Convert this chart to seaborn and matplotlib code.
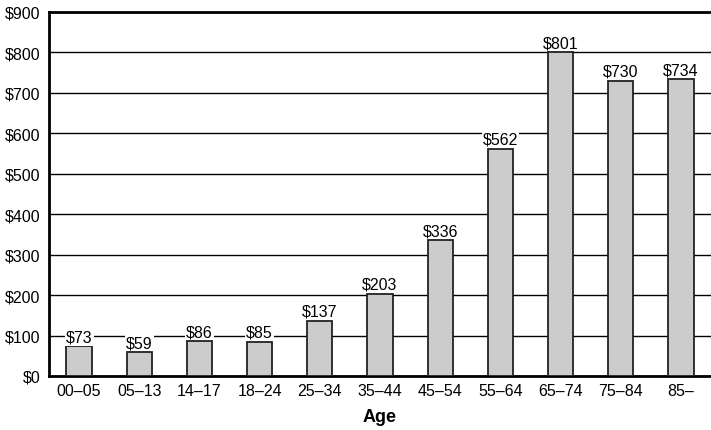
import matplotlib
matplotlib.use("Agg")
import matplotlib.pyplot as plt
import seaborn as sns
import pandas as pd

age_groups = ["00–05", "05–13", "14–17", "18–24", "25–34", "35–44",
              "45–54", "55–64", "65–74", "75–84", "85–"]
spending = [73, 59, 86, 85, 137, 203, 336, 562, 801, 730, 734]
y_ticks = [0, 100, 200, 300, 400, 500, 600, 700, 800, 900]

sns.set_style("white", {"text.color": "black", "axes.labelcolor": "black",
                        "xtick.color": "black", "ytick.color": "black"})
plt.rcParams["font.family"] = ["Liberation Sans", "DejaVu Sans"]

df = pd.DataFrame({"Age": age_groups, "Spending": spending})

fig = plt.figure(figsize=(7.11, 4.31), dpi=100)
ax = fig.add_axes([49 / 711, 1 - 377 / 431, 1 - 49 / 711, (377 - 13) / 431])

sns.barplot(data=df, x="Age", y="Spending", color="#cccccc", width=0.42,
            edgecolor="#222222", linewidth=1.3, saturation=1, ax=ax, zorder=3)

ax.set_ylim(0, 900)
ax.set_xlim(-0.5, len(age_groups) - 0.5)
ax.set_yticks(y_ticks)
ax.set_yticklabels([f"${v}" for v in y_ticks], fontsize=11.5, color="black")
ax.yaxis.grid(True, color="black", linewidth=1.0, zorder=0)
ax.set_axisbelow(True)

# category ticks sit between the groups
ax.set_xticks(range(len(age_groups)))
ax.set_xticklabels(age_groups, fontsize=11.5, color="black")
ax.tick_params(axis="x", length=0, pad=5)
ax.set_xticks([i + 0.5 for i in range(len(age_groups) - 1)], minor=True)
ax.tick_params(axis="x", which="minor", length=6, width=1.2, color="black", direction="out")
ax.tick_params(axis="y", length=5, width=1.2, color="black", direction="out", pad=1)

ax.set_xlabel("Age", fontsize=13, fontweight="bold", labelpad=7, color="black")
ax.set_ylabel("")

for side in ["left", "bottom", "top"]:
    ax.spines[side].set_visible(True)
    ax.spines[side].set_color("black")
    ax.spines[side].set_linewidth(2)
ax.spines["right"].set_visible(False)

for i, v in enumerate(spending):
    ax.text(i, v + 5, f"${v}", ha="center", va="bottom", fontsize=11.5, zorder=4,
            color="black", bbox=dict(facecolor="white", edgecolor="none", pad=0.8))

fig.savefig("out.png", dpi=100)
